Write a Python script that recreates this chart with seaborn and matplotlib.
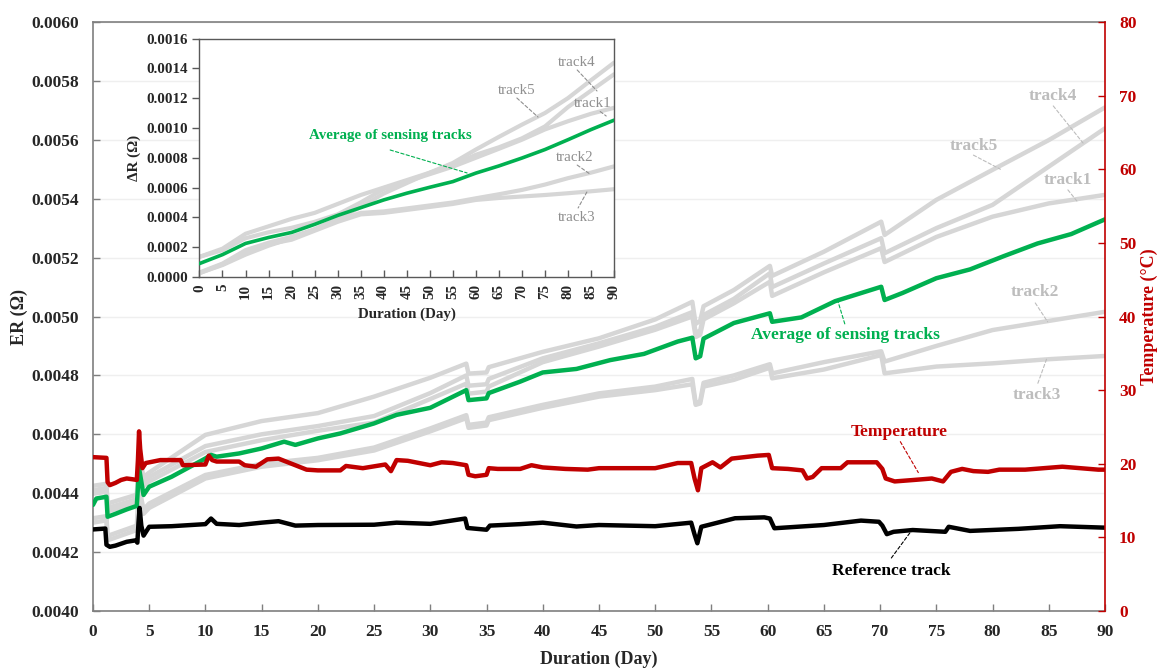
import matplotlib
matplotlib.use("Agg")
import matplotlib.pyplot as plt
import pandas as pd
import seaborn as sns

sns.set_style("white")
plt.rcParams['font.family'] = ['Liberation Serif', 'DejaVu Serif']
plt.rcParams['font.weight'] = 'bold'

# ---------------- main panel data ----------------
track_days = [0, 1.2, 1.3, 3.9, 4.1, 4.5, 5, 10, 15, 20, 25, 30, 33.2, 33.4, 35, 35.2,
              40, 45, 50, 53.3, 53.6, 54, 54.3, 57, 60.2, 60.4, 65, 70.1, 70.4, 75, 80, 85, 90]
track5_er = [0.004425, 0.004432, 0.004365, 0.004395, 0.004530, 0.004455, 0.004470, 0.004598,
             0.004645, 0.004672, 0.004728, 0.004792, 0.004840, 0.004806, 0.004810, 0.004828,
             0.004880, 0.004926, 0.004990, 0.005050, 0.004975, 0.004985, 0.005035, 0.005090,
             0.005172, 0.005138, 0.005220, 0.005322, 0.005277, 0.005396, 0.005498, 0.005599, 0.005710]
track4_er = [0.004410, 0.004418, 0.004350, 0.004380, 0.004510, 0.004440, 0.004455, 0.004560,
             0.004600, 0.004628, 0.004662, 0.004740, 0.004800, 0.004765, 0.004770, 0.004788,
             0.004858, 0.004909, 0.004965, 0.005015, 0.004945, 0.004952, 0.005005, 0.005060,
             0.005147, 0.005100, 0.005180, 0.005266, 0.005215, 0.005300, 0.005379, 0.005509, 0.005639]
track1_er = [0.004398, 0.004405, 0.004338, 0.004368, 0.004495, 0.004425, 0.004440, 0.004540,
             0.004580, 0.004612, 0.004640, 0.004720, 0.004772, 0.004738, 0.004745, 0.004762,
             0.004845, 0.004898, 0.004955, 0.005000, 0.004930, 0.004938, 0.004990, 0.005045,
             0.005118, 0.005070, 0.005150, 0.005232, 0.005185, 0.005270, 0.005339, 0.005384, 0.005413]
track2_er = [0.004315, 0.004322, 0.004255, 0.004290, 0.004420, 0.004345, 0.004365, 0.004462,
             0.004500, 0.004520, 0.004555, 0.004620, 0.004665, 0.004632, 0.004640, 0.004658,
             0.004700, 0.004739, 0.004762, 0.004788, 0.004705, 0.004712, 0.004775, 0.004800,
             0.004838, 0.004807, 0.004845, 0.004882, 0.004847, 0.004900, 0.004954, 0.004985, 0.005016]
track3_er = [0.004300, 0.004308, 0.004240, 0.004275, 0.004405, 0.004330, 0.004350, 0.004450,
             0.004490, 0.004512, 0.004545, 0.004610, 0.004655, 0.004622, 0.004630, 0.004648,
             0.004690, 0.004728, 0.004750, 0.004770, 0.004700, 0.004705, 0.004762, 0.004785,
             0.004826, 0.004790, 0.004820, 0.004869, 0.004807, 0.004830, 0.004841, 0.004855, 0.004866]

avg_days = [0, 0.3, 1.2, 1.3, 2, 3, 3.9, 4.1, 4.5, 5, 7, 10, 10.5, 11, 13, 15, 17, 18, 20, 22,
            25, 27, 30, 33.2, 33.4, 35, 35.2, 38, 40, 43, 46, 49, 52, 53.3, 53.6, 54, 54.3, 57,
            60.2, 60.4, 63, 66, 70.1, 70.4, 72, 75, 78, 81, 84, 87, 90]
avg_er = [0.004360, 0.004382, 0.004388, 0.004320, 0.004330, 0.004345, 0.004357, 0.004485,
          0.004394, 0.004422, 0.004456, 0.004518, 0.004530, 0.004524, 0.004535, 0.004552,
          0.004575, 0.004564, 0.004586, 0.004603, 0.004637, 0.004666, 0.004690, 0.004750,
          0.004716, 0.004722, 0.004740, 0.004779, 0.004810, 0.004822, 0.004852, 0.004873,
          0.004915, 0.004928, 0.004858, 0.004865, 0.004925, 0.004978, 0.005011, 0.004982,
          0.004997, 0.005052, 0.005101, 0.005056, 0.005080, 0.005130, 0.005160, 0.005205,
          0.005248, 0.005280, 0.005330]

ref_days = [0, 1.1, 1.2, 1.5, 2, 3, 3.8, 3.95, 4.05, 4.15, 4.3, 4.5, 5, 7, 10, 10.5, 11, 13,
            15, 16.5, 18, 20, 25, 27, 30, 33.1, 33.3, 35, 35.3, 38, 40, 43, 45, 50, 53.2, 53.5,
            53.75, 54.1, 57.1, 59.7, 60.2, 60.6, 65, 68.3, 69.9, 70.2, 70.6, 71.2, 72.9, 75.8,
            76.1, 78, 82.3, 86, 90]
ref_er = [0.004277, 0.004280, 0.004225, 0.004218, 0.004222, 0.004235, 0.004240, 0.004232,
          0.004300, 0.004350, 0.004290, 0.004256, 0.004286, 0.004288, 0.004295, 0.004314,
          0.004296, 0.004292, 0.004300, 0.004305, 0.004290, 0.004292, 0.004293, 0.004300,
          0.004296, 0.004314, 0.004282, 0.004276, 0.004290, 0.004295, 0.004300, 0.004287,
          0.004292, 0.004288, 0.004300, 0.004260, 0.004230, 0.004286, 0.004315, 0.004318,
          0.004314, 0.004281, 0.004292, 0.004307, 0.004303, 0.004290, 0.004261, 0.004269,
          0.004275, 0.004269, 0.004286, 0.004272, 0.004279, 0.004288, 0.004283]

temp_days = [0, 1.2, 1.3, 1.5, 2, 2.5, 3, 3.5, 3.9, 4.0, 4.1, 4.2, 4.4, 4.7, 6, 7.8, 8, 10,
             10.3, 10.6, 11, 13, 13.5, 14.5, 15.5, 16.5, 18, 19, 20, 22, 22.5, 24, 26, 26.5,
             27, 28, 29, 30, 31, 32, 33.2, 33.4, 34, 35, 35.2, 36, 38, 39, 40, 42, 44, 45, 50,
             52, 53.2, 53.5, 53.8, 54.1, 55.1, 55.8, 56.8, 59.1, 60.1, 60.4, 61.8, 63.1, 63.5,
             64, 64.8, 66.5, 67.1, 69.7, 70.2, 70.5, 71.3, 73, 74.6, 75.6, 76.3, 77.3, 78.3,
             79.6, 80.6, 82.9, 86.2, 89.4, 90]
temp_c = [20.9, 20.8, 17.5, 17.1, 17.4, 17.8, 18.0, 17.9, 17.8, 20.5, 24.4, 22.0, 19.4, 20.1,
          20.5, 20.5, 19.8, 19.9, 21.1, 20.5, 20.3, 20.3, 19.8, 19.6, 20.6, 20.7, 19.8, 19.2,
          19.1, 19.1, 19.7, 19.4, 19.9, 19.0, 20.5, 20.4, 20.1, 19.8, 20.2, 20.1, 19.8, 18.5,
          18.3, 18.5, 19.4, 19.3, 19.3, 19.8, 19.5, 19.3, 19.2, 19.4, 19.4, 20.1, 20.1, 18.0,
          16.4, 19.4, 20.2, 19.5, 20.7, 21.1, 21.2, 19.4, 19.3, 19.1, 18.0, 18.2, 19.4, 19.4,
          20.2, 20.2, 19.3, 18.0, 17.6, 17.8, 18.0, 17.6, 18.9, 19.3, 19.0, 18.9, 19.2, 19.2,
          19.6, 19.2, 19.2]

# ---------------- inset data (change in resistance) ----------------
inset_days = [0, 5, 10, 15, 20, 25, 30, 35, 40, 45, 50, 55, 60, 65, 70, 75, 80, 85, 90]
d_track5 = [0.000027, 0.000080, 0.000150, 0.000210, 0.000260, 0.000320, 0.000390, 0.000470,
            0.000560, 0.000630, 0.000700, 0.000765, 0.000855, 0.000940, 0.001022, 0.001100,
            0.001200, 0.001320, 0.001438]
d_track4 = [0.000135, 0.000190, 0.000290, 0.000340, 0.000390, 0.000430, 0.000490, 0.000550,
            0.000600, 0.000650, 0.000700, 0.000750, 0.000820, 0.000870, 0.000930, 0.001010,
            0.001140, 0.001250, 0.001360]
d_track1 = [0.000135, 0.000180, 0.000260, 0.000300, 0.000330, 0.000370, 0.000420, 0.000500,
            0.000590, 0.000640, 0.000690, 0.000740, 0.000800, 0.000860, 0.000921, 0.000990,
            0.001045, 0.001095, 0.001135]
d_track2 = [0.000030, 0.000090, 0.000180, 0.000230, 0.000270, 0.000320, 0.000380, 0.000430,
            0.000440, 0.000460, 0.000480, 0.000500, 0.000528, 0.000555, 0.000584, 0.000620,
            0.000663, 0.000700, 0.000742]
d_track3 = [0.000025, 0.000085, 0.000170, 0.000220, 0.000250, 0.000310, 0.000370, 0.000420,
            0.000430, 0.000450, 0.000470, 0.000490, 0.000517, 0.000530, 0.000540, 0.000550,
            0.000562, 0.000575, 0.000589]
d_avg = [0.000090, 0.000150, 0.000225, 0.000265, 0.000299, 0.000353, 0.000413, 0.000465,
         0.000517, 0.000562, 0.000602, 0.000640, 0.000697, 0.000745, 0.000798, 0.000855,
         0.000921, 0.000989, 0.001052]

x_ticks = list(range(0, 95, 5))
er_ticks = [0.0040, 0.0042, 0.0044, 0.0046, 0.0048, 0.0050, 0.0052, 0.0054, 0.0056, 0.0058, 0.0060]
temp_ticks = [0, 10, 20, 30, 40, 50, 60, 70, 80]
dr_ticks = [0.0, 0.0002, 0.0004, 0.0006, 0.0008, 0.0010, 0.0012, 0.0014, 0.0016]

GRAY = "#d6d6d6"
GREEN = "#00b050"
RED = "#c00000"
TXT_GRAY = "#bdbdbd"
INSET_TXT = "#8f8f8f"
SPINE = "#7f7f7f"

fig = plt.figure(figsize=(11.59, 6.71), dpi=100)
ax = fig.add_axes([0.0802, 0.0894, 0.8732, 0.8778])
ax2 = ax.twinx()

# sensing tracks, average and reference on the resistance axis
for vals in [track5_er, track4_er, track1_er, track2_er, track3_er]:
    sns.lineplot(x=track_days, y=vals, ax=ax, color=GRAY, lw=3.2, sort=False,
                 estimator=None, zorder=2)
sns.lineplot(x=avg_days, y=avg_er, ax=ax, color=GREEN, lw=3.2, sort=False,
             estimator=None, zorder=3)
sns.lineplot(x=ref_days, y=ref_er, ax=ax, color="black", lw=3.2, sort=False,
             estimator=None, zorder=3)
# temperature on the secondary axis
sns.lineplot(x=temp_days, y=temp_c, ax=ax2, color=RED, lw=3.2, sort=False,
             estimator=None, zorder=3)

ax.set_xlim(0, 90)
ax.set_ylim(0.0040, 0.0060)
ax2.set_ylim(0, 80)
ax.set_xticks(x_ticks)
ax.set_yticks(er_ticks)
ax.set_yticklabels([f"{v:.4f}" for v in er_ticks])
ax2.set_yticks(temp_ticks)
ax.yaxis.grid(True, color="#efefef", lw=1.0, zorder=0)
ax.set_axisbelow(True)

ax.tick_params(axis="both", which="both", direction="in", length=5, width=1,
               color=SPINE, labelsize=12.5, bottom=True, left=True, top=False, right=False)
ax.tick_params(axis="x", pad=9)
ax.tick_params(axis="y", pad=10)
ax2.tick_params(axis="y", direction="in", length=5, width=1, color=RED,
                labelcolor=RED, labelsize=12.5, right=True, pad=10)
for lab in ax.get_xticklabels() + ax.get_yticklabels() + ax2.get_yticklabels():
    lab.set_fontweight("bold")

for s in ["left", "bottom", "top"]:
    ax.spines[s].set_color(SPINE)
    ax.spines[s].set_linewidth(1.2)
ax.spines["right"].set_visible(False)
for s in ["left", "bottom", "top"]:
    ax2.spines[s].set_visible(False)
ax2.spines["right"].set_color(RED)
ax2.spines["right"].set_linewidth(1.2)

ax.set_xlabel("Duration (Day)", fontsize=13, fontweight="bold", labelpad=8)
ax.set_ylabel("ER (Ω)", fontsize=13, fontweight="bold", labelpad=2)
ax2.set_ylabel("Temperature (°C)", fontsize=13, fontweight="bold", color=RED, labelpad=3)


def callout(axes, text, txy, start, end, color, size, weight="bold"):
    axes.annotate("", xy=end, xytext=start,
                  arrowprops=dict(arrowstyle="-", linestyle=(0, (3, 2)), lw=0.8,
                                  color=color, shrinkA=0, shrinkB=0), zorder=6)
    axes.text(txy[0], txy[1], text, color=color, fontsize=size, fontweight=weight,
              ha="center", va="center", zorder=6)


callout(ax, "track4", (85.4, 0.005749), (85.4, 0.005715), (88.05, 0.005589), TXT_GRAY, 12.5)
callout(ax, "track5", (78.3, 0.005579), (78.3, 0.005548), (80.7, 0.005500), TXT_GRAY, 12.5)
callout(ax, "track1", (86.7, 0.005464), (86.7, 0.005430), (87.5, 0.005392), TXT_GRAY, 12.5)
callout(ax, "track2", (83.8, 0.005083), (83.8, 0.005046), (84.9, 0.004982), TXT_GRAY, 12.5)
callout(ax, "track3", (83.9, 0.004733), (84.8, 0.004855), (84.0, 0.004770), TXT_GRAY, 12.5)
callout(ax, "Average of sensing tracks", (66.9, 0.004937), (66.2, 0.005058), (66.9, 0.004970),
        GREEN, 12.5)
callout(ax, "Reference track", (71.0, 0.004136), (71.0, 0.004180), (72.7, 0.004268),
        "black", 12.5)
callout(ax2, "Temperature", (71.7, 24.3), (71.8, 23.0), (73.4, 18.8), RED, 12.5)

# inset: change in resistance of each sensing track
ins = fig.add_axes([0.1721, 0.5872, 0.3577, 0.3554])
ins.set_zorder(10)
ins.set_facecolor("white")
for vals in [d_track5, d_track4, d_track1, d_track2, d_track3]:
    sns.lineplot(x=inset_days, y=vals, ax=ins, color=GRAY, lw=3.0, sort=False,
                 estimator=None, zorder=2)
sns.lineplot(x=inset_days, y=d_avg, ax=ins, color=GREEN, lw=2.6, sort=False,
             estimator=None, zorder=3)
ins.set_xlim(0, 90)
ins.set_ylim(0, 0.0016)
ins.set_xticks(x_ticks)
ins.set_xticklabels([str(t) for t in x_ticks], rotation=90)
ins.set_yticks(dr_ticks)
ins.set_yticklabels([f"{v:.4f}" for v in dr_ticks])
ins.tick_params(axis="y", direction="out", length=5, width=1, color="#595959",
                labelsize=10.8, left=True, pad=3)
ins.tick_params(axis="x", direction="in", length=5, width=1, color="#595959",
                labelsize=10.8, bottom=True, pad=5)
for lab in ins.get_xticklabels() + ins.get_yticklabels():
    lab.set_fontweight("bold")
for s in ins.spines.values():
    s.set_color("#595959")
    s.set_linewidth(1.0)
ins.set_xlabel("Duration (Day)", fontsize=10.8, fontweight="bold", labelpad=6)
ins.set_ylabel("ΔR (Ω)", fontsize=10.8, fontweight="bold", labelpad=4)

callout(ins, "track4", (82.0, 0.001442), (82.0, 0.001389), (86.3, 0.001248), INSET_TXT, 10.8, "normal")
callout(ins, "track5", (68.9, 0.001254), (68.9, 0.001201), (73.5, 0.001073), INSET_TXT, 10.8, "normal")
callout(ins, "track1", (85.4, 0.001161), (87.0, 0.001110), (88.3, 0.001080), INSET_TXT, 10.8, "normal")
callout(ins, "track2", (81.5, 0.000805), (82.0, 0.000751), (84.8, 0.000690), INSET_TXT, 10.8, "normal")
callout(ins, "track3", (82.0, 0.000396), (84.1, 0.000570), (82.2, 0.000463), INSET_TXT, 10.8, "normal")
callout(ins, "Average of sensing tracks", (41.4, 0.000946), (41.4, 0.000852), (58.1, 0.000698),
        GREEN, 10.8)

fig.savefig("out.png", dpi=100)
